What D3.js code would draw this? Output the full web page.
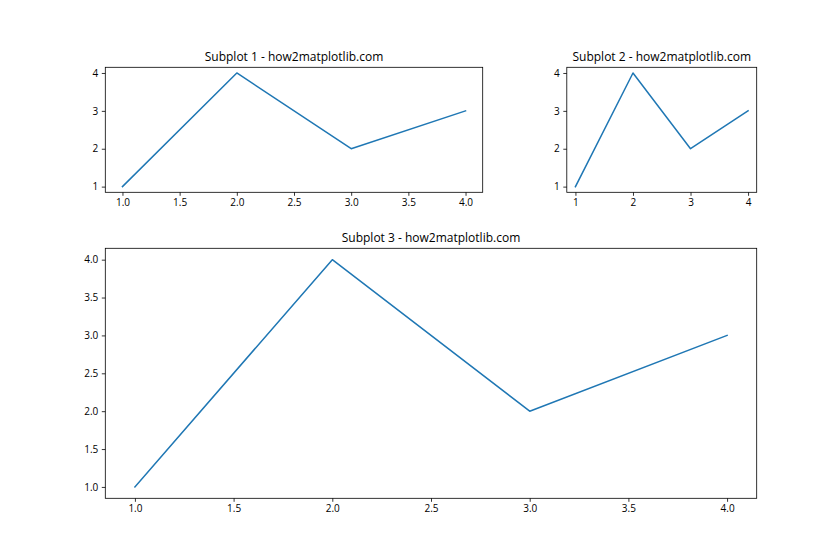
<!DOCTYPE html>
<html>
<head>
<meta charset="utf-8">
<script src="https://cdn.jsdelivr.net/npm/d3@7"></script>
<style>
  html, body { margin: 0; padding: 0; background: #fff; }
  svg { display: block; }
  text { font-family: "Open Sans", "Noto Sans", sans-serif; fill: #000; }
</style>
</head>
<body>
<svg id="chart" width="840" height="560"></svg>
<script>
const xValues = [1, 2, 3, 4];
const yValues = [1, 4, 2, 3];
const titles = ["Subplot 1 - how2matplotlib.com", "Subplot 2 - how2matplotlib.com", "Subplot 3 - how2matplotlib.com"];
const xTicks1 = [1.0, 1.5, 2.0, 2.5, 3.0, 3.5, 4.0];
const yTicks1 = [1, 2, 3, 4];
const xTicks2 = [1, 2, 3, 4];
const yTicks2 = [1, 2, 3, 4];
const xTicks3 = [1.0, 1.5, 2.0, 2.5, 3.0, 3.5, 4.0];
const yTicks3 = [1.0, 1.5, 2.0, 2.5, 3.0, 3.5, 4.0];

const panels = [
  {title: titles[0], box: [105.3, 67.3, 482.7, 192.3], xt: xTicks1, yt: yTicks1, xf: d3.format(".1f"), yf: d3.format("d")},
  {title: titles[1], box: [566.8, 67.3, 756.7, 192.3], xt: xTicks2, yt: yTicks2, xf: d3.format("d"), yf: d3.format("d")},
  {title: titles[2], box: [105.3, 248.3, 756.7, 498.3], xt: xTicks3, yt: yTicks3, xf: d3.format(".1f"), yf: d3.format(".1f")}
];

const svg = d3.select("#chart");
const xDom = [0.85, 4.15];
const yDom = [0.85, 4.15];

panels.forEach(p => {
  const [x0, y0, x1, y1] = p.box;
  const x = d3.scaleLinear().domain(xDom).range([x0, x1]);
  const y = d3.scaleLinear().domain(yDom).range([y1, y0]);
  const g = svg.append("g");

  const line = d3.line().x((d, i) => x(xValues[i])).y(d => y(d));
  g.append("path").datum(yValues)
    .attr("d", line).attr("fill", "none")
    .attr("stroke", "#1f77b4").attr("stroke-width", 1.5)
    .attr("stroke-linecap", "square").attr("stroke-linejoin", "round");

  const xAxis = d3.axisBottom(x).tickValues(p.xt).tickFormat(p.xf).tickSize(3.5).tickPadding(3.5);
  const yAxis = d3.axisLeft(y).tickValues(p.yt).tickFormat(p.yf).tickSize(3.5).tickPadding(3.5);
  const gx = g.append("g").attr("transform", `translate(0,${y1})`).call(xAxis);
  const gy = g.append("g").attr("transform", `translate(${x0},0)`).call(yAxis);
  [gx, gy].forEach(a => {
    a.select(".domain").remove();
    a.selectAll(".tick line").attr("stroke", "#000").attr("stroke-width", 0.8);
    a.selectAll(".tick text").attr("font-size", 10).attr("fill", "#000")
      .style("font-family", '"Open Sans", "Noto Sans", sans-serif');
  });

  g.append("rect").attr("x", x0).attr("y", y0)
    .attr("width", x1 - x0).attr("height", y1 - y0)
    .attr("fill", "none").attr("stroke", "#000").attr("stroke-width", 0.8);

  g.append("text").attr("x", (x0 + x1) / 2).attr("y", y0 - 6)
    .attr("text-anchor", "middle").attr("font-size", 12).text(p.title);
});
</script>
</body>
</html>
